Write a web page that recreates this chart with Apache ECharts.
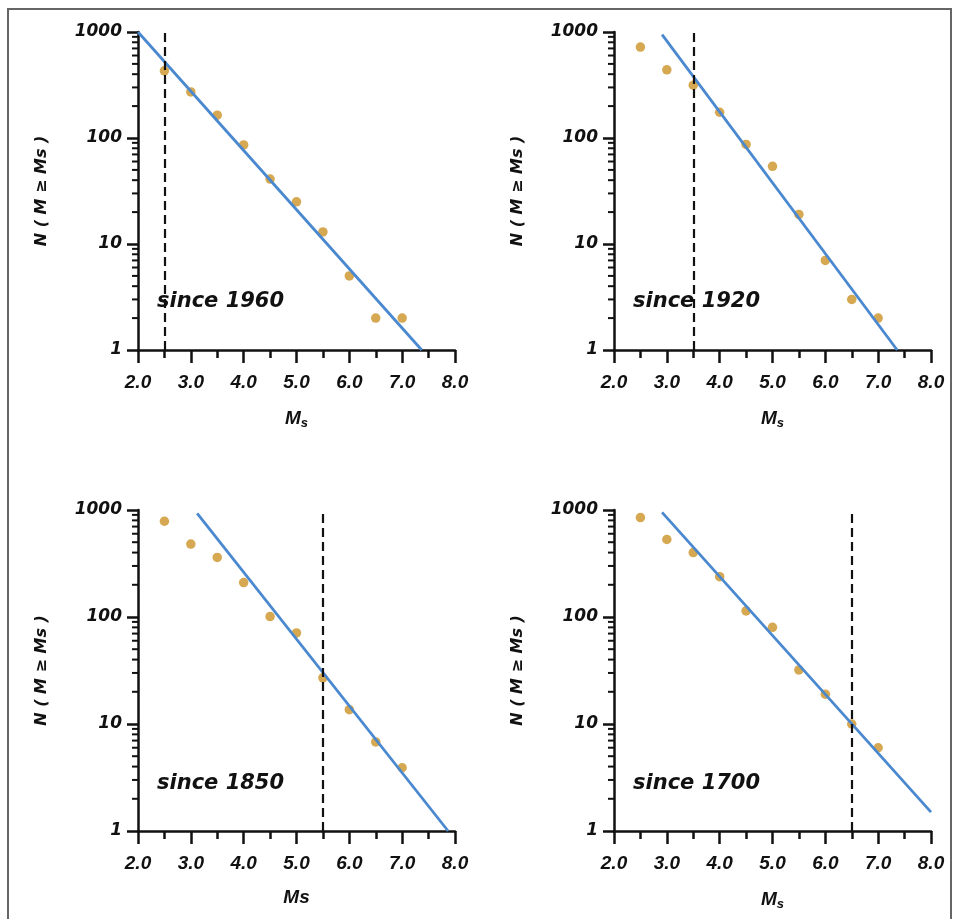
<!DOCTYPE html>
<html>
<head>
<meta charset="utf-8">
<script src="https://cdn.jsdelivr.net/npm/echarts@6/dist/echarts.min.js"></script>
<style>
  html, body { margin: 0; padding: 0; background: #ffffff; }
  #chart { width: 953px; height: 919px; }
</style>
</head>
<body>
<div id="chart"></div>
<script>
// ---- data ----
const magnitudes = [2.5, 3.0, 3.5, 4.0, 4.5, 5.0, 5.5, 6.0, 6.5, 7.0];
const counts1960 = [430, 272, 164, 86, 41, 25, 13, 5, 2, 2];
const counts1920 = [720, 440, 315, 175, 87, 54, 19, 7, 3, 2];
const counts1850 = [785, 480, 360, 210, 101, 71, 27, 13.6, 6.8, 3.9];
const counts1700 = [850, 530, 400, 238, 114, 80, 32, 19, 10, 6];
const fit1960 = [[2.0, 1000], [7.37, 1]];
const fit1920 = [[2.91, 944], [7.36, 1]];
const fit1850 = [[3.12, 931], [7.87, 1]];
const fit1700 = [[2.91, 950], [8.0, 1.5]];
const cutoffs = [2.5, 3.5, 5.5, 6.5];
const panelLabels = ['since 1960', 'since 1920', 'since 1850', 'since 1700'];
const xTickLabels = ['2.0', '3.0', '4.0', '5.0', '6.0', '7.0', '8.0'];
const yTickLabels = ['1', '10', '100', '1000'];
const minorYTicks = [2,3,4,5,6,7,8,9,20,30,40,50,60,70,80,90,200,300,400,500,600,700,800,900];
const xNames = ['sub', 'sub', 'plain', 'sub'];

const countsList = [counts1960, counts1920, counts1850, counts1700];
const fitsList = [fit1960, fit1920, fit1850, fit1700];

// ---- layout ----
const grids = [
  { left: 138, top: 32, width: 317, height: 318 },
  { left: 614, top: 32, width: 317, height: 318 },
  { left: 138, top: 510, width: 317, height: 321 },
  { left: 614, top: 510, width: 317, height: 321 }
];
const textPos = [[157, 304], [633, 304], [157, 786], [633, 786]];

const dotColor = '#d5a851';
const lineColor = '#4a88cf';
const fontLbl = 'DejaVu Sans';

const xAxes = [], yAxes = [], series = [], graphics = [];

grids.forEach((g, i) => {
  xAxes.push({
    type: 'value', gridIndex: i, min: 2, max: 8, interval: 1,
    name: xNames[i] === 'sub' ? '{m|M}{s|s}' : '{m|Ms}',
    nameLocation: 'middle', nameGap: 57,
    nameTextStyle: {
      rich: {
        m: { fontFamily: 'Liberation Sans', fontWeight: 'bold', fontStyle: 'italic', fontSize: 19, color: '#111' },
        s: { fontFamily: 'Liberation Sans', fontWeight: 'bold', fontStyle: 'italic', fontSize: 13, color: '#111', padding: [10, 0, 0, 0] }
      }
    },
    axisLine: { lineStyle: { color: '#111', width: 2.5 } },
    axisTick: { length: 13, lineStyle: { color: '#111', width: 2.5 } },
    minorTick: { show: true, splitNumber: 2, length: 8, lineStyle: { color: '#111', width: 2.5 } },
    splitLine: { show: false },
    axisLabel: {
      margin: 23, color: '#111', fontFamily: 'Liberation Sans', fontWeight: 'bold', fontStyle: 'italic', fontSize: 19,
      formatter: v => xTickLabels[Math.round(v - 2)] || ''
    }
  });
  yAxes.push({
    type: 'log', logBase: 10, gridIndex: i, min: 1, max: 1000,
    name: 'N ( M ≥ Ms )', nameLocation: 'middle', nameGap: 88, nameRotate: 90,
    nameTextStyle: { fontFamily: fontLbl, fontWeight: 'bold', fontStyle: 'italic', fontSize: 16, color: '#111' },
    axisLine: { lineStyle: { color: '#111', width: 2.5 } },
    axisTick: { length: 11, lineStyle: { color: '#111', width: 2.5 } },
    splitLine: { show: false },
    axisLabel: {
      margin: 16, color: '#111', fontFamily: fontLbl, fontWeight: 'bold', fontStyle: 'italic', fontSize: 17,
      formatter: v => yTickLabels[Math.round(Math.log10(v))] || ''
    }
  });
  // minor y ticks
  series.push({
    type: 'custom', xAxisIndex: i, yAxisIndex: i, silent: true, clip: false,
    data: minorYTicks.map(v => [2, v]),
    renderItem: (params, api) => {
      const p = api.coord([api.value(0), api.value(1)]);
      return {
        type: 'line',
        shape: { x1: p[0] - 6, y1: p[1], x2: p[0], y2: p[1] },
        style: { stroke: '#111', lineWidth: 2 }
      };
    },
    z: 1
  });
  // fit line
  series.push({
    type: 'line', xAxisIndex: i, yAxisIndex: i, data: fitsList[i],
    showSymbol: false, symbol: 'none', silent: true,
    lineStyle: { color: lineColor, width: 2.8 }, z: 3
  });
  // observed cumulative counts + cutoff line
  series.push({
    type: 'scatter', xAxisIndex: i, yAxisIndex: i,
    data: magnitudes.map((m, k) => [m, countsList[i][k]]),
    symbolSize: 9.5, itemStyle: { color: dotColor, opacity: 1 }, z: 2,
    markLine: {
      silent: true, symbol: ['none', 'none'], label: { show: false },
      lineStyle: { color: '#111', type: [9, 5], width: 2.2 },
      data: [{ xAxis: cutoffs[i] }],
      z: 4
    }
  });
  graphics.push({
    type: 'text', left: textPos[i][0], top: textPos[i][1] - 13, z: 10,
    style: {
      text: panelLabels[i], fill: '#111',
      font: 'italic bold 21px "DejaVu Sans"'
    }
  });
});

// outer frame
graphics.push({
  type: 'rect', shape: { x: 8, y: 9, width: 943, height: 930 },
  style: { fill: 'none', stroke: '#666', lineWidth: 2 }, z: -1, silent: true
});

const chart = echarts.init(document.getElementById('chart'), null, { renderer: 'canvas' });
chart.setOption({
  backgroundColor: '#ffffff',
  animation: false,
  grid: grids,
  xAxis: xAxes,
  yAxis: yAxes,
  series: series,
  graphic: graphics
});
</script>
</body>
</html>
